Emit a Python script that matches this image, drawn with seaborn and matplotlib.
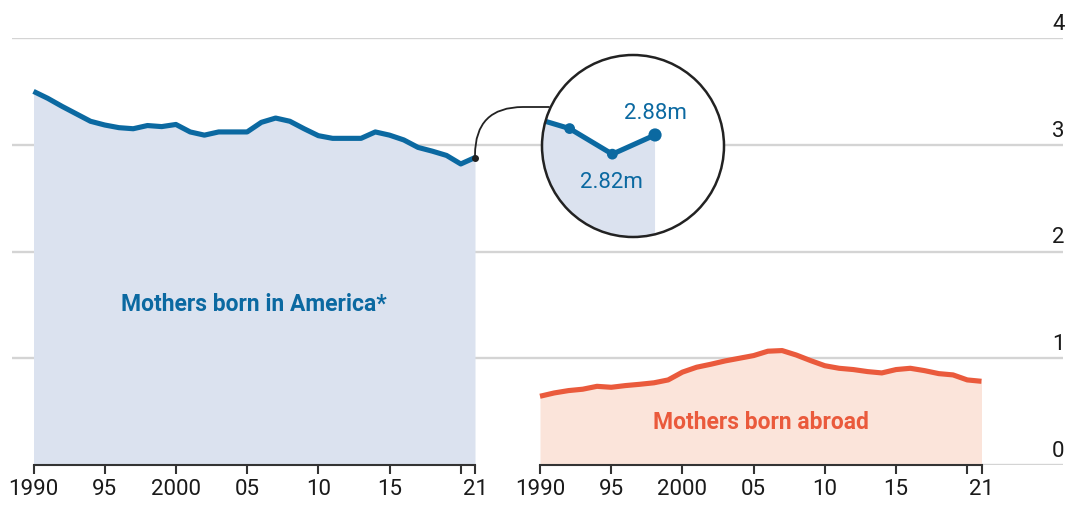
import matplotlib
matplotlib.use("Agg")
import matplotlib.pyplot as plt
import matplotlib.transforms as mtransforms
from matplotlib.patches import Circle
import seaborn as sns

# Births by mother's place of birth, millions
years = list(range(1990, 2022))
born_in_america = [3.50, 3.435, 3.36, 3.29, 3.22, 3.185, 3.16, 3.15, 3.18, 3.17,
                   3.19, 3.12, 3.09, 3.12, 3.12, 3.12, 3.21, 3.25, 3.22, 3.15,
                   3.085, 3.06, 3.06, 3.06, 3.12, 3.09, 3.045, 2.975, 2.94, 2.90,
                   2.82, 2.88]
born_abroad = [0.644, 0.675, 0.697, 0.71, 0.737, 0.728, 0.744, 0.756, 0.77, 0.797,
               0.87, 0.916, 0.944, 0.975, 1.0, 1.025, 1.066, 1.072, 1.03, 0.978,
               0.93, 0.906, 0.894, 0.875, 0.8625, 0.894, 0.906, 0.884, 0.856, 0.844,
               0.797, 0.784]

tick_years = [1990, 1995, 2000, 2005, 2010, 2015, 2020, 2021]
tick_labels = ["1990", "95", "2000", "05", "10", "15", "", "21"]
y_levels = [0, 1, 2, 3, 4]
callout_labels = ["2.82m", "2.88m"]

BLUE = "#0b69a1"
BLUE_FILL = "#dbe2ef"
RED = "#ea5a3c"
RED_FILL = "#fbe4da"
GRID = "#d4d4d4"
INK = "#333333"

sns.set_style("white")
plt.rcParams["font.family"] = ["Roboto", "DejaVu Sans"]

W, H = 1081, 506
fig = plt.figure(figsize=(W / 100, H / 100), dpi=100)
fig.patch.set_facecolor("white")

# Background gridlines with value labels on the right
ax_bg = fig.add_axes([12 / W, 40 / H, 1051 / W, 427 / H])
ax_bg.set_xlim(0, 1)
ax_bg.set_ylim(0, 4)
ax_bg.axis("off")
for v in y_levels[1:]:
    ax_bg.axhline(v, color=GRID, lw=1.7, zorder=0)
ax_bg.axhline(0, xmin=(981 - 12) / 1051, xmax=1, color=GRID, lw=1.7, zorder=0)
lab_tr = mtransforms.offset_copy(
    mtransforms.blended_transform_factory(ax_bg.transAxes, ax_bg.transData),
    fig=fig, x=1, y=3, units="points")
for v in y_levels:
    ax_bg.text(1.0, v, str(v), transform=lab_tr, ha="right", va="bottom",
               fontsize=16, color="#1a1a1a")


def panel(left_px, values, line_color, fill_color):
    ax = fig.add_axes([left_px / W, 40 / H, 441.5 / W, 427 / H])
    ax.set_facecolor("none")
    ax.fill_between(years, values, 0, color=fill_color, lw=0, zorder=1)
    sns.lineplot(x=years, y=values, ax=ax, color=line_color, lw=3.7,
                 solid_capstyle="butt", solid_joinstyle="round", zorder=3)
    for ln in ax.lines:
        ln.set_clip_on(False)
    ax.set_xlim(1990, 2021)
    ax.set_ylim(0, 4)
    ax.set_yticks([])
    ax.set_xticks(tick_years)
    ax.set_xticklabels(tick_labels, fontsize=16, color="#1a1a1a")
    ax.tick_params(axis="x", direction="out", length=6.5, width=1.5,
                   color=INK, pad=3, bottom=True)
    for side in ("left", "right", "top"):
        ax.spines[side].set_visible(False)
    ax.spines["bottom"].set_color(INK)
    ax.spines["bottom"].set_linewidth(1.5)
    ax.spines["bottom"].set_zorder(4)
    ax.set_xlabel("")
    ax.set_ylabel("")
    return ax


ax1 = panel(33.5, born_in_america, BLUE, BLUE_FILL)
ax2 = panel(540, born_abroad, RED, RED_FILL)

ax1.text(2005.5, 1.51, "Mothers born in America*", ha="center", va="center",
         fontsize=16.5, fontweight="bold", color=BLUE)
ax2.text(2005.5, 0.41, "Mothers born abroad", ha="center", va="center",
         fontsize=16.5, fontweight="bold", color=RED)

# Magnified view of the last three years
ax_in = fig.add_axes([542 / W, (506 - 238) / H, 182 / W, 182 / H])
ax_in.set_facecolor("none")
ax_in.set_xlim(2018.353, 2022.615)
ax_in.set_ylim(2.561, 3.13)
ax_in.axis("off")
disk = Circle((0.5, 0.5), 0.5, transform=ax_in.transAxes, facecolor="white",
              edgecolor="none", zorder=0)
ax_in.add_patch(disk)
ax_in.fill_between(years, born_in_america, 0, color=BLUE_FILL, lw=0, zorder=1)
sns.lineplot(x=years, y=born_in_america, ax=ax_in, color=BLUE, lw=3.7,
             solid_joinstyle="round", zorder=3)
ax_in.scatter(years[-3:], born_in_america[-3:], s=[60, 60, 90], color=BLUE, zorder=4,
              linewidths=0)
for art in list(ax_in.lines) + list(ax_in.collections):
    art.set_clip_path(disk)
ring = Circle((0.5, 0.5), 0.5, transform=ax_in.transAxes, facecolor="none",
              edgecolor="#222222", lw=1.8, zorder=6, clip_on=False)
ax_in.add_patch(ring)
ax_in.set_xlabel("")
ax_in.set_ylabel("")
ax_in.annotate(callout_labels[1], (years[-1], born_in_america[-1]), xytext=(0, 16.5),
               textcoords="offset points", ha="center", va="center",
               fontsize=16, color=BLUE, zorder=7)
ax_in.annotate(callout_labels[0], (years[-2], born_in_america[-2]), xytext=(-1, -19.5),
               textcoords="offset points", ha="center", va="center",
               fontsize=16, color=BLUE, zorder=7)

# Connector from the end of the line to the magnifier
ax1.plot([years[-1]], [born_in_america[-1]], "o", color="#222222", ms=4,
         zorder=6, clip_on=False)
ax1.annotate("", xy=(years[-1], born_in_america[-1]), xycoords="data",
             xytext=(549, H - 108), textcoords="figure pixels",
             arrowprops=dict(arrowstyle="-", color="#222222", lw=1.3,
                             shrinkA=0, shrinkB=0,
                             connectionstyle="angle,angleA=0,angleB=90,rad=48"),
             annotation_clip=False)

fig.savefig("out.png", dpi=100)
